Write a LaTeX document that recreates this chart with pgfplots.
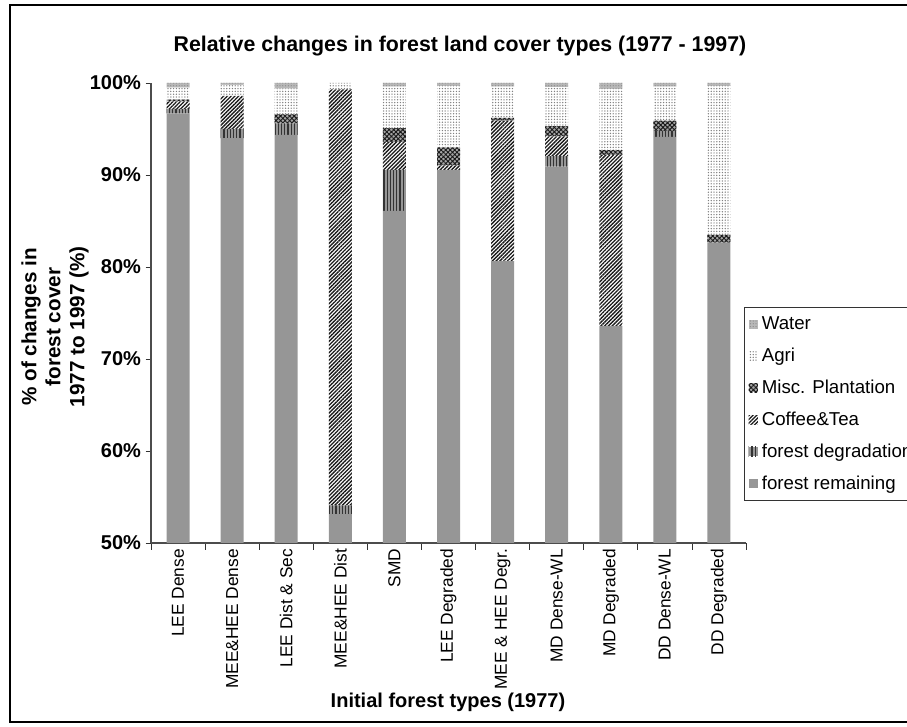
\documentclass[border=0pt]{standalone}
\usepackage{pgfplots}
\pgfplotsset{compat=1.18}
\usepackage{pgfplotstable}
\usetikzlibrary{patterns.meta}
\usepackage{fontspec}
\setmainfont{Liberation Sans}

\definecolor{remain}{HTML}{969696}
\definecolor{water}{HTML}{B8B8B8}

% cumulative shares per initial forest type, one segment per column
\pgfplotstableread{
x R     D    C     M    A     W
0 96.70 0.50 0.80  0.20 1.30  0.50
1 94.00 1.00 3.60  0.00 1.20  0.20
2 94.35 1.25 0.00  1.00 2.80  0.60
3 53.15 0.95 45.20 0.00 0.70  0.00
4 86.10 4.45 3.05  1.50 4.50  0.40
5 90.55 0.00 0.50  1.95 6.70  0.30
6 80.65 0.00 15.25 0.30 3.40  0.40
7 90.90 1.15 2.15  1.10 4.25  0.45
8 73.60 0.00 18.60 0.50 6.65  0.65
9 94.15 0.65 0.00  1.10 3.70  0.40
10 82.65 0.00 0.00 0.85 16.20 0.30
}\landcover

\begin{document}
\begin{tikzpicture}[x=0.75pt,y=0.75pt]
\path[use as bounding box] (0,0) rectangle (907,727);
\draw[line width=1.5pt] (10,5) rectangle (930,722);

\begin{axis}[
    at={(113.25pt,138pt)}, anchor=south west,
    scale only axis,
    width=446.25pt, height=345pt,
    ybar stacked,
    bar width=17.25pt,
    xmin=-0.5, xmax=10.5,
    ymin=50, ymax=100,
    axis lines=left,
    axis line style={black!70, line width=0.8pt, -},
    tick align=outside,
    tick style={black!80, line width=0.6pt},
    xtick={0,...,10},
    major x tick style={draw=none},
    minor xtick={-0.5,0.5,...,10.5},
    minor tick length=5pt,
    major tick length=4pt,
    xticklabels={LEE Dense, MEE\&HEE Dense, LEE Dist \& Sec, MEE\&HEE Dist, SMD, LEE Degraded, MEE \& HEE Degr., MD Dense-WL, MD Degraded, DD Dense-WL, DD Degraded},
    x tick label style={rotate=90, anchor=east, font=\fontsize{13}{15}\selectfont, xshift=3pt},
    ytick={50,60,...,100},
    yticklabels={50\%,60\%,70\%,80\%,90\%,100\%},
    y tick label style={font=\fontsize{15}{18}\selectfont\bfseries},
    reverse legend,
    legend cell align=left,
    legend style={at={(0.9966,0.513)}, anchor=north west,
        draw=black!80, line width=0.8pt,
        font=\fontsize{14}{16}\selectfont,
        row sep=8.3pt, inner xsep=3pt, inner ysep=5pt,
        nodes={inner xsep=3pt}},
    legend image code/.code={\draw[#1, draw=none] (1pt,-3.5pt) rectangle (8pt,3.5pt);},
]
\addplot[fill=remain, draw=none] table[x=x, y=R] {\landcover};
\addplot[fill=remain, draw=none,
    postaction={pattern={Lines[angle=90,distance=2.4pt,line width=0.9pt]}, pattern color=black!80}]
    table[x=x, y=D] {\landcover};
\addplot[fill=white, draw=none,
    postaction={pattern={Lines[angle=45,distance=2pt,line width=1pt]}, pattern color=black!90}]
    table[x=x, y=C] {\landcover};
\addplot[fill=black!35, draw=none,
    postaction={pattern={Hatch[angle=45,distance=2.4pt,line width=0.7pt]}, pattern color=black!90}]
    table[x=x, y=M] {\landcover};
\addplot[fill=white, draw=none,
    postaction={pattern={Dots[distance=2.1pt,radius=0.55pt]}, pattern color=black!50}]
    table[x=x, y=A] {\landcover};
\addplot[fill=water, draw=none,
    postaction={pattern={Dots[distance=2.1pt,radius=0.5pt]}, pattern color=black!45}]
    table[x=x, y=W] {\landcover};
\legend{forest remaining, forest degradation, Coffee\&Tea, Misc. Plantation, Agri, Water}
\end{axis}

\node[font=\fontsize{16}{18}\selectfont\bfseries] at (460,681) {Relative changes in forest land cover types (1977 - 1997)};
\node[font=\fontsize{15.5}{18}\selectfont\bfseries, rotate=90, align=center] at (55,400)
    {\% of changes in\\forest cover\\1977 to 1997 (\%)};
\node[font=\fontsize{15}{18}\selectfont\bfseries] at (448,25) {Initial forest types (1977)};
\end{tikzpicture}
\end{document}
